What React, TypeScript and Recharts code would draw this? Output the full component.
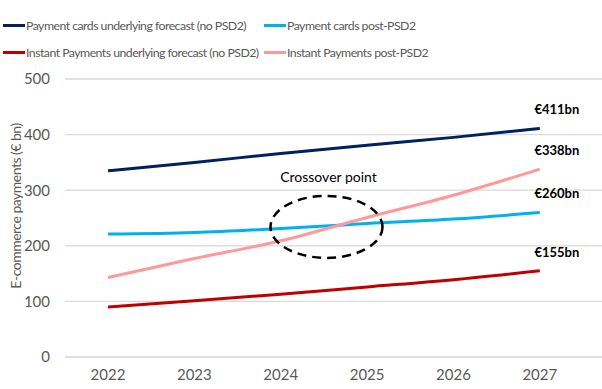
import {
  LineChart,
  Line,
  XAxis,
  YAxis,
  CartesianGrid,
  ReferenceDot,
  LabelList,
} from 'recharts';

const years = [2022, 2023, 2024, 2025, 2026, 2027];
const cardsBase = [335, 350, 366, 381, 395, 411];
const cardsPost = [221, 224, 231, 240, 248, 260];
const instantBase = [90, 101, 113, 126, 139, 155];
const instantPost = [143, 177, 209, 251, 291, 338];
const yTicks = [0, 100, 200, 300, 400, 500];

const seriesNames = [
  'Payment cards underlying forecast (no PSD2)',
  'Payment cards post-PSD2',
  'Instant Payments underlying forecast (no PSD2)',
  'Instant Payments post-PSD2',
];
const seriesKeys = ['cardsBase', 'cardsPost', 'instantBase', 'instantPost'];
const seriesColors = ['#002060', '#00b0f0', '#c00000', '#ff9999'];

const yAxisTitle = 'E-commerce payments (€ bn)';
const crossover = { year: 2024.53, value: 234, label: 'Crossover point' };

const data = years.map((year, i) => ({
  year,
  cardsBase: cardsBase[i],
  cardsPost: cardsPost[i],
  instantBase: instantBase[i],
  instantPost: instantPost[i],
}));

const FONT = 'Lato, "Open Sans", sans-serif';

function EndLabel(props: any) {
  const { x, y, value, index } = props;
  if (index !== years.length - 1) return null;
  return (
    <text
      x={x + 17}
      y={y - 19}
      textAnchor="middle"
      dominantBaseline="central"
      fontFamily={FONT}
      fontSize={13}
      fontWeight={700}
      fill="#000"
    >
      {`€${value}bn`}
    </text>
  );
}

function CrossoverShape(props: any) {
  const { cx, cy } = props;
  return (
    <g>
      <ellipse
        cx={cx}
        cy={cy}
        rx={56}
        ry={31}
        fill="none"
        stroke="#000"
        strokeWidth={2.5}
        strokeDasharray="9 6"
      />
      <text
        x={cx + 2}
        y={cy - 50}
        textAnchor="middle"
        dominantBaseline="central"
        fontFamily={FONT}
        fontSize={14}
        fill="#000"
      >
        {crossover.label}
      </text>
    </g>
  );
}

function YTitle(props: any) {
  const { viewBox } = props;
  const cx = 15;
  const cy = viewBox.y + viewBox.height / 2 - 12;
  return (
    <text
      x={cx}
      y={cy}
      transform={`rotate(-90 ${cx} ${cy})`}
      textAnchor="middle"
      dominantBaseline="central"
      fontFamily={FONT}
      fontSize={14}
      letterSpacing={-0.5}
      fill="#595959"
    >
      {yAxisTitle}
    </text>
  );
}

function Legend() {
  const cols = [3, 264];
  const rows = [25, 52];
  return (
    <>
      {seriesNames.map((name, i) => (
        <div
          key={name}
          style={{
            position: 'absolute',
            left: cols[i % 2],
            top: rows[Math.floor(i / 2)] - 9,
            height: 18,
            display: 'flex',
            alignItems: 'center',
            fontFamily: FONT,
            fontSize: 12.3,
            letterSpacing: -0.53,
            color: '#595959',
            whiteSpace: 'nowrap',
          }}
        >
          <span
            style={{
              display: 'inline-block',
              width: 22,
              height: 3,
              background: seriesColors[i],
              marginRight: 1,
            }}
          />
          {name}
        </div>
      ))}
    </>
  );
}

export default function App() {
  return (
    <div style={{ position: 'absolute', left: 0, top: 0, width: 602, height: 389, background: '#fff' }}>
      <Legend />
      <LineChart
        width={602}
        height={389}
        data={data}
        margin={{ top: 79, right: 0, bottom: 0, left: 0 }}
      >
        <CartesianGrid vertical={false} stroke="#d9d9d9" strokeWidth={1.3} />
        <XAxis
          dataKey="year"
          type="number"
          domain={[2021.502, 2027.72]}
          ticks={years}
          axisLine={{ stroke: '#d9d9d9' }}
          tickLine={false}
          tick={{ fill: '#595959', fontSize: 15, fontFamily: FONT }}
          dy={4}
          height={32}
        />
        <YAxis
          domain={[0, 500]}
          ticks={yTicks}
          width={65}
          axisLine={false}
          tickLine={false}
          tick={{ fill: '#595959', fontSize: 15, fontFamily: FONT }}
          dx={-7}
          label={<YTitle />}
        />
        {seriesKeys.map((key, i) => (
          <Line
            key={key}
            type="monotone"
            dataKey={key}
            name={seriesNames[i]}
            stroke={seriesColors[i]}
            strokeWidth={3}
            dot={false}
            isAnimationActive={false}
          >
            <LabelList dataKey={key} content={<EndLabel />} />
          </Line>
        ))}
        <ReferenceDot
          x={crossover.year}
          y={crossover.value}
          r={0}
          shape={<CrossoverShape />}
        />
      </LineChart>
    </div>
  );
}
